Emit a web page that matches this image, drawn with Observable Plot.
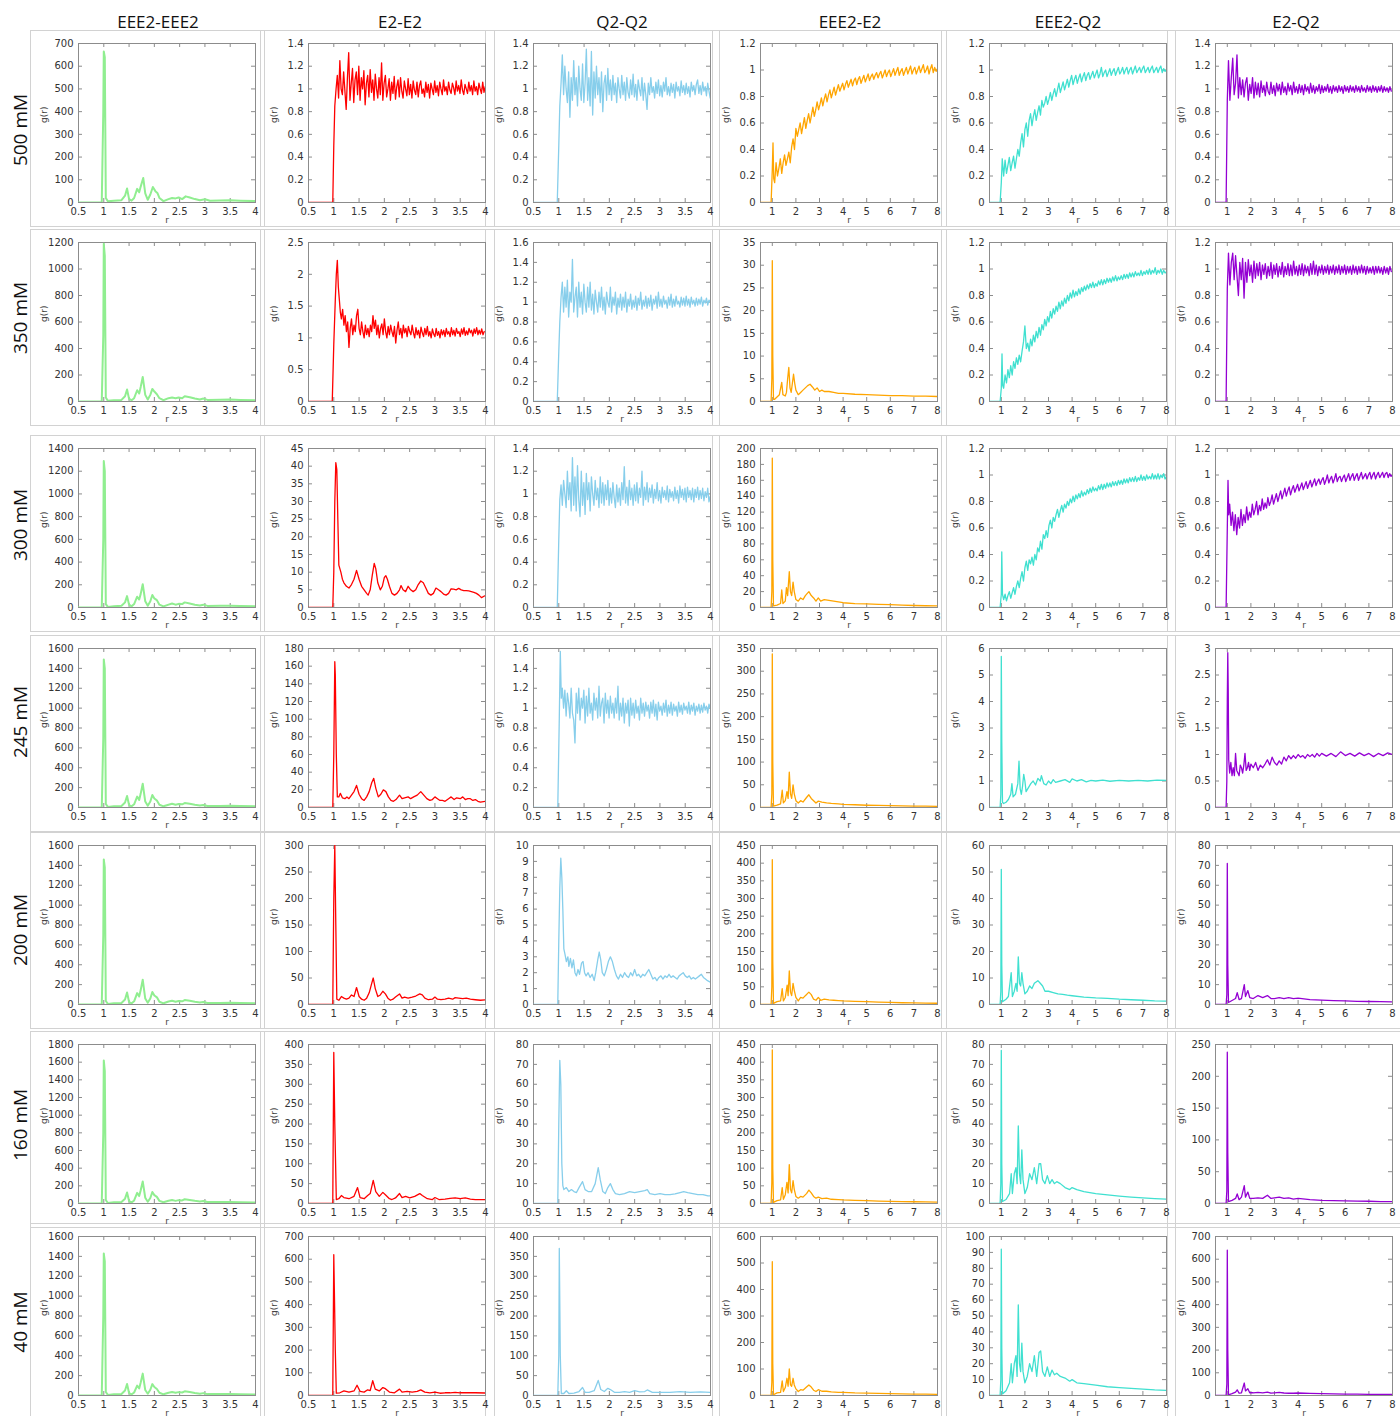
<!DOCTYPE html>
<html>
<head>
<meta charset="utf-8">
<script src="https://cdn.jsdelivr.net/npm/d3@7"></script>
<script src="https://cdn.jsdelivr.net/npm/@observablehq/plot@0.6"></script>
<style>
  body { margin: 0; background: #fff; }
  #fig { position: relative; width: 1400px; height: 1416px; overflow: hidden; background: #fff; font-family: "Open Sans", sans-serif; }
  .box { position: absolute; border: 1px solid #d2d2d2; box-sizing: border-box; }
  .colhead { position: absolute; top: 10px; line-height: 23px; font-size: 17px; color: #111; transform: translateX(-50%); white-space: nowrap; }
  .rowhead { position: absolute; font-size: 19px; color: #111; transform: translate(-50%, -50%) rotate(-90deg); white-space: nowrap; }
  svg.panel { position: absolute; }
</style>
</head>
<body>
<div id="fig"></div>
<script>
// ---- labels ----
const concentrations = ["500 mM", "350 mM", "300 mM", "245 mM", "200 mM", "160 mM", "40 mM"];
const pairs = ["EEE2-EEE2", "E2-E2", "Q2-Q2", "EEE2-E2", "EEE2-Q2", "E2-Q2"];

// y-axis maxima and tick steps, one row per concentration, one entry per pair
const yMax = [
  [700, 1.4, 1.4, 1.2, 1.2, 1.4],
  [1200, 2.5, 1.6, 35, 1.2, 1.2],
  [1400, 45, 1.4, 200, 1.2, 1.2],
  [1600, 180, 1.6, 350, 6, 3],
  [1600, 300, 10, 450, 60, 80],
  [1800, 400, 80, 450, 80, 250],
  [1600, 700, 400, 600, 100, 700]
];
const yStep = [
  [100, 0.2, 0.2, 0.2, 0.2, 0.2],
  [200, 0.5, 0.2, 5, 0.2, 0.2],
  [200, 5, 0.2, 20, 0.2, 0.2],
  [200, 20, 0.2, 50, 1, 0.5],
  [200, 50, 1, 50, 10, 10],
  [200, 50, 10, 50, 10, 50],
  [200, 100, 50, 100, 10, 100]
];
const xTicksShort = [0.5, 1, 1.5, 2, 2.5, 3, 3.5, 4];
const xTicksLong = [1, 2, 3, 4, 5, 6, 7, 8];

// g(r) sampled on a regular r grid
function onGrid(r0, dr, values) {
  return values.map((g, i) => [+(r0 + i * dr).toFixed(3), g]);
}

// ---- EEE2-EEE2 ----
const eee2eee2_500 = [[0.5,0],[0.96,0],[0.99,400],[1.0,665],[1.02,640],[1.04,20],[1.08,5],[1.2,8],[1.35,10],[1.42,30],[1.46,62],[1.5,15],[1.55,8],[1.6,20],[1.66,60],[1.7,45],[1.73,70],[1.78,108],[1.82,40],[1.87,12],[1.92,35],[1.97,68],[2.02,50],[2.06,42],[2.1,20],[2.18,6],[2.28,15],[2.35,20],[2.42,18],[2.48,22],[2.55,15],[2.62,27],[2.7,22],[2.8,15],[2.9,10],[3.0,14],[3.1,8],[3.3,9],[3.5,10],[3.7,8],[4.0,6]];
const eee2eee2_350 = [[0.5,0],[0.96,0],[0.99,500],[1.0,1190],[1.02,1100],[1.04,30],[1.08,5],[1.2,10],[1.35,12],[1.42,40],[1.46,90],[1.5,20],[1.55,10],[1.6,25],[1.66,85],[1.7,60],[1.73,110],[1.77,185],[1.82,50],[1.87,15],[1.92,50],[1.96,95],[2.0,75],[2.05,55],[2.1,25],[2.18,10],[2.28,25],[2.35,30],[2.42,25],[2.48,30],[2.55,25],[2.6,40],[2.7,32],[2.8,22],[2.9,15],[2.97,22],[3.05,12],[3.3,14],[3.5,15],[3.7,12],[4.0,10]];
const eee2eee2_300 = [[0.5,0],[0.96,0],[0.99,600],[1.0,1290],[1.02,1200],[1.04,30],[1.08,5],[1.2,10],[1.35,15],[1.42,45],[1.46,100],[1.5,25],[1.55,10],[1.6,30],[1.66,95],[1.7,70],[1.73,120],[1.77,205],[1.82,55],[1.87,15],[1.92,55],[1.96,110],[2.0,80],[2.05,65],[2.1,25],[2.18,10],[2.28,25],[2.35,35],[2.42,25],[2.48,32],[2.55,30],[2.6,45],[2.7,35],[2.8,25],[2.9,18],[2.97,25],[3.05,14],[3.3,15],[3.5,16],[3.7,13],[4.0,10]];
const eee2eee2_245 = [[0.5,0],[0.96,0],[0.99,700],[1.0,1490],[1.02,1400],[1.04,35],[1.08,6],[1.2,12],[1.35,16],[1.42,50],[1.46,115],[1.5,25],[1.55,12],[1.6,32],[1.66,110],[1.7,75],[1.73,140],[1.77,240],[1.82,60],[1.87,18],[1.92,60],[1.96,125],[2.0,90],[2.05,70],[2.1,28],[2.18,12],[2.28,28],[2.35,38],[2.42,28],[2.48,35],[2.55,32],[2.6,45],[2.7,38],[2.8,28],[2.9,20],[2.97,26],[3.05,15],[3.3,16],[3.5,17],[3.7,14],[4.0,12]];
const eee2eee2_200 = [[0.5,0],[0.96,0],[0.99,700],[1.0,1460],[1.02,1380],[1.04,35],[1.08,6],[1.2,12],[1.35,16],[1.42,50],[1.46,120],[1.5,25],[1.55,12],[1.6,32],[1.66,115],[1.7,80],[1.73,145],[1.77,250],[1.82,60],[1.87,18],[1.92,60],[1.96,125],[2.0,90],[2.05,72],[2.1,28],[2.18,12],[2.28,30],[2.35,38],[2.42,28],[2.48,36],[2.55,32],[2.6,45],[2.7,38],[2.8,28],[2.9,20],[2.97,26],[3.05,15],[3.3,16],[3.5,17],[3.7,14],[4.0,12]];
const eee2eee2_160 = [[0.5,0],[0.96,0],[0.99,800],[1.0,1620],[1.02,1500],[1.04,40],[1.08,6],[1.2,14],[1.35,18],[1.42,55],[1.46,125],[1.5,28],[1.55,12],[1.6,35],[1.66,120],[1.7,85],[1.73,150],[1.77,250],[1.82,65],[1.87,20],[1.92,62],[1.96,130],[2.0,95],[2.05,75],[2.1,30],[2.18,14],[2.28,32],[2.35,40],[2.42,30],[2.48,38],[2.55,35],[2.6,48],[2.7,40],[2.8,30],[2.9,22],[2.97,28],[3.05,16],[3.3,18],[3.5,18],[3.7,15],[4.0,12]];
const eee2eee2_40 = [[0.5,0],[0.96,0],[0.99,800],[1.0,1430],[1.02,1350],[1.04,35],[1.08,6],[1.2,12],[1.35,16],[1.42,50],[1.46,115],[1.5,25],[1.55,12],[1.6,30],[1.66,100],[1.7,70],[1.73,130],[1.77,220],[1.82,55],[1.87,18],[1.92,58],[1.96,115],[2.0,85],[2.05,65],[2.1,28],[2.18,12],[2.28,28],[2.35,36],[2.42,28],[2.48,34],[2.55,30],[2.6,42],[2.7,35],[2.8,25],[2.9,18],[2.97,24],[3.05,14],[3.3,15],[3.5,16],[3.7,13],[4.0,11]];

// ---- E2-E2 ----
const e2e2_500_lead = [[0.5,0],[0.98,0],[1.0,0.5]];
const e2e2_500_g = [
  0.85,1.0,1.12,0.92,1.25,1.0,0.95,1.15,0.98,0.82,
  1.1,1.32,0.9,1.05,1.18,0.88,1.08,1.15,0.95,1.2,
  0.9,1.1,1.0,1.16,0.86,1.05,1.12,0.93,1.17,0.97,
  1.08,0.9,1.13,1.0,0.92,1.1,0.95,1.23,0.9,1.05,
  1.12,0.93,1.0,1.09,0.9,1.06,0.96,1.11,0.91,1.02,
  1.08,0.93,1.1,0.98,0.92,1.07,1.0,0.94,1.09,0.95,
  1.04,0.92,1.07,0.99,0.95,1.06,0.93,1.03,1.07,0.96,
  1.0,0.93,1.06,0.97,1.04,0.92,1.05,1.0,0.95,1.07,
  0.97,1.03,0.94,1.06,1.0,0.95,1.08,0.98,1.02,0.95,
  1.06,0.99,0.96,1.05,1.01,0.95,1.07,0.98,1.03,0.96,
  1.08,0.99,0.95,1.04,1.0,0.96,1.06,0.98,1.03,0.95,
  1.07,0.98,1.02,0.95,1.05,1.0,0.96,1.06,0.97,1.02];
const e2e2_350_lead = [[0.5,0],[0.97,0],[1.0,0.9],[1.03,1.6],[1.05,2.0],[1.07,2.22],[1.09,1.8],[1.11,1.6],[1.13,1.4]];
const e2e2_350_g = [
  1.3,1.45,1.2,1.35,1.1,1.25,0.85,1.15,1.3,1.05,
  1.2,1.1,1.35,1.45,1.15,1.05,1.25,1.1,1.0,1.2,
  1.05,1.15,1.02,1.2,1.1,1.35,1.15,1.28,1.05,1.2,
  1.0,1.15,1.22,1.05,1.3,1.1,1.0,1.18,1.05,1.2,
  1.1,1.02,1.18,0.92,1.12,1.25,1.05,1.15,1.0,1.2,
  1.08,1.15,1.02,1.18,1.1,1.05,1.2,1.08,1.0,1.16,
  1.05,1.12,1.0,1.17,1.08,1.02,1.15,1.05,1.18,1.03,
  1.1,1.0,1.14,1.06,1.02,1.15,1.04,1.1,1.0,1.13,
  1.05,1.12,1.02,1.15,1.06,1.1,1.02,1.16,1.05,1.12,
  1.03,1.15,1.07,1.1,1.02,1.14,1.06,1.16,1.04,1.11,
  1.05,1.15,1.08,1.12,1.03,1.14,1.07,1.16,1.05,1.12,
  1.06,1.14,1.05,1.1];
const e2e2_300 = [[0.5,0],[0.98,0],[1.0,10],[1.02,30],[1.04,41],[1.06,39],[1.08,25],[1.1,12],[1.12,11],[1.14,10],[1.17,8],[1.2,7],[1.25,6],[1.3,5.5],[1.35,6.5],[1.4,8],[1.45,10.5],[1.5,8],[1.55,6],[1.6,5],[1.65,4],[1.68,3.5],[1.72,5],[1.76,9],[1.8,12.5],[1.83,11],[1.87,7],[1.92,5],[1.96,6],[2.0,8.5],[2.03,9],[2.06,8],[2.1,6],[2.15,4],[2.2,3.5],[2.25,4],[2.3,5],[2.33,6.2],[2.37,5],[2.42,4.5],[2.47,6],[2.52,5],[2.57,4.5],[2.62,5],[2.67,6.5],[2.72,7.5],[2.77,7],[2.82,5.5],[2.87,4],[2.92,3.5],[2.97,4],[3.02,5.5],[3.07,5],[3.12,4.5],[3.17,3.8],[3.22,3.5],[3.27,4],[3.32,5.3],[3.37,5.2],[3.42,5],[3.47,5.4],[3.52,5],[3.57,4.8],[3.62,4.8],[3.67,4.7],[3.72,4.5],[3.77,4.3],[3.82,4],[3.87,3.5],[3.92,2.8],[3.97,3.2],[4.0,3.3]];
const e2e2_245 = [[0.5,0],[0.98,0],[1.0,60],[1.02,165],[1.03,150],[1.05,60],[1.07,12],[1.1,12],[1.13,16],[1.17,11],[1.22,10],[1.26,12],[1.3,10],[1.35,14],[1.4,18],[1.45,25],[1.5,15],[1.55,10],[1.6,8],[1.65,12],[1.7,18],[1.75,28],[1.79,33],[1.83,22],[1.88,12],[1.93,15],[1.98,20],[2.03,18],[2.08,12],[2.13,8],[2.18,7],[2.23,9],[2.3,14],[2.35,10],[2.4,11],[2.47,12],[2.52,10],[2.58,12],[2.65,14],[2.72,18],[2.78,14],[2.84,10],[2.9,8],[2.95,9],[3.0,12],[3.05,10],[3.1,8],[3.15,8],[3.2,7],[3.27,10],[3.32,12],[3.38,9],[3.43,11],[3.5,10],[3.55,12],[3.6,9],[3.65,10],[3.7,10],[3.75,8],[3.8,9],[3.85,7],[3.9,6],[4.0,7]];
const e2e2_200 = [[0.5,0],[0.98,0],[1.0,200],[1.02,300],[1.04,150],[1.06,10],[1.1,8],[1.15,15],[1.2,12],[1.25,10],[1.3,12],[1.35,18],[1.4,15],[1.45,32],[1.5,15],[1.55,10],[1.6,8],[1.65,12],[1.7,22],[1.75,40],[1.78,50],[1.82,30],[1.87,15],[1.92,18],[1.97,25],[2.02,20],[2.07,12],[2.12,8],[2.17,10],[2.22,14],[2.3,20],[2.35,12],[2.4,14],[2.47,12],[2.55,14],[2.62,16],[2.7,20],[2.75,18],[2.8,12],[2.87,9],[2.95,10],[3.0,14],[3.05,10],[3.12,9],[3.2,10],[3.27,12],[3.35,10],[3.4,13],[3.47,12],[3.55,11],[3.62,12],[3.7,10],[3.8,9],[3.9,8],[4.0,9]];
const e2e2_160 = [[0.5,0],[0.98,0],[1.0,380],[1.02,200],[1.05,10],[1.1,12],[1.15,20],[1.2,15],[1.3,12],[1.4,18],[1.47,40],[1.52,15],[1.6,12],[1.67,20],[1.72,25],[1.78,58],[1.83,30],[1.9,18],[1.97,28],[2.02,22],[2.1,12],[2.15,10],[2.22,14],[2.3,25],[2.35,15],[2.42,18],[2.5,14],[2.6,18],[2.7,25],[2.75,20],[2.85,12],[2.95,10],[3.0,15],[3.08,10],[3.2,11],[3.3,13],[3.4,14],[3.5,12],[3.6,14],[3.7,11],[3.8,10],[4.0,10]];
const e2e2_40 = [[0.5,0],[0.98,0],[1.0,620],[1.03,200],[1.05,10],[1.12,12],[1.2,20],[1.3,15],[1.4,20],[1.46,45],[1.52,18],[1.6,15],[1.67,25],[1.72,22],[1.77,65],[1.82,28],[1.9,20],[1.97,35],[2.02,30],[2.1,15],[2.2,12],[2.3,28],[2.35,15],[2.45,18],[2.55,15],[2.65,18],[2.72,25],[2.8,15],[2.9,12],[3.0,15],[3.1,10],[3.2,12],[3.3,12],[3.4,14],[3.5,12],[3.6,13],[3.7,12],[3.8,12],[4.0,11]];

// ---- Q2-Q2 ----
const q2q2_500_lead = [[0.5,0],[0.97,0],[1.0,0.5]];
const q2q2_500_g = [
  0.85,1.05,1.3,0.95,1.2,1.0,0.88,1.15,0.75,1.1,
  0.9,1.25,0.95,1.1,0.85,1.2,1.0,0.9,1.22,0.88,
  1.05,1.35,0.9,1.1,0.85,1.33,0.77,1.15,0.92,1.2,
  0.95,1.1,0.88,1.15,0.8,1.05,1.12,0.9,1.18,0.95,
  1.08,0.9,1.12,0.95,1.05,0.88,1.1,1.0,0.92,1.12,
  0.95,1.06,0.9,1.1,0.97,0.92,1.08,0.95,1.13,0.93,
  1.04,0.9,1.08,1.0,0.94,1.1,0.9,1.05,0.95,0.82,
  1.05,0.95,1.1,0.97,1.02,0.92,1.06,0.96,1.08,0.94,
  1.03,0.93,1.06,0.98,1.1,0.95,1.02,0.94,1.05,0.97,
  1.04,0.92,1.06,0.98,1.02,0.94,1.07,0.97,1.03,0.95,
  1.05,0.96,1.02,0.93,1.06,0.98,1.03,0.95,1.04,1.08,
  0.96,1.03,0.95,1.06,0.98,1.02,0.94,1.05,0.98,0.92];
const q2q2_350_lead = [[0.5,0],[0.97,0],[1.0,0.5]];
const q2q2_350_g = [
  0.8,1.05,1.2,0.9,1.15,0.95,1.22,0.85,1.1,1.0,
  1.43,0.9,1.05,1.15,0.85,1.2,0.95,1.1,0.88,1.18,
  1.0,0.9,1.15,0.95,1.2,0.92,1.08,0.88,1.12,1.0,
  0.9,1.1,0.95,1.15,0.92,1.05,0.88,1.1,1.0,0.95,
  1.15,0.9,1.05,0.97,1.1,0.88,1.04,0.95,1.08,0.92,
  1.05,0.95,1.1,0.9,1.03,0.96,1.08,0.93,1.02,0.95,
  1.06,0.92,1.04,0.97,1.1,0.93,1.02,0.96,1.06,0.94,
  1.04,0.96,1.07,0.92,1.03,0.98,1.06,0.94,1.1,0.96,
  1.03,0.95,1.06,0.98,1.02,0.94,1.05,0.97,1.08,0.95,
  1.03,0.96,1.06,0.98,1.01,0.95,1.05,0.97,1.04,0.96,
  1.06,0.97,1.03,0.95,1.05,0.98,1.02,0.96,1.04,0.97,
  1.03,0.98,1.05,0.96,1.02,0.99,1.04,0.97,1.02,1.0];
const q2q2_300_lead = [[0.5,0],[0.97,0],[1.0,0.6]];
const q2q2_300_g = [
  0.95,1.08,0.9,1.12,1.0,0.88,1.2,0.95,1.1,0.85,
  1.32,0.9,1.15,0.85,1.25,0.95,0.8,1.2,0.9,1.1,
  0.82,1.18,0.95,1.1,0.85,1.15,1.0,0.9,1.12,0.95,
  1.05,0.88,1.15,0.92,1.1,0.9,1.08,0.95,1.12,0.9,
  1.05,0.92,1.1,0.97,0.88,1.08,0.93,1.05,0.9,1.1,
  0.95,1.24,0.92,1.06,0.9,1.12,0.95,1.05,0.9,1.08,
  0.94,1.1,0.92,1.05,0.97,1.2,0.9,1.06,0.95,1.1,
  0.93,1.05,0.97,1.08,0.92,1.04,0.96,1.1,0.94,1.03,
  0.92,1.06,0.97,1.03,0.95,1.07,0.93,1.04,0.97,1.02,
  0.94,1.06,0.96,1.03,0.92,1.07,0.97,1.04,0.95,1.05,
  0.93,1.06,0.97,1.03,0.95,1.05,0.93,1.04,0.97,1.06,
  0.95,1.03,0.96,1.05,0.94,1.02,0.97,1.05,0.93,0.98];
const q2q2_245_lead = [[0.5,0],[0.98,0],[1.01,0.9],[1.03,1.57],[1.05,1.1]];
const q2q2_245_g = [
  1.2,1.0,1.18,0.92,1.15,1.05,0.9,1.2,0.95,0.88,
  0.65,1.15,0.95,1.2,0.88,1.1,1.0,1.18,0.85,1.12,
  0.92,1.2,0.95,1.05,0.88,1.15,0.98,1.1,0.9,1.22,
  0.92,1.05,1.1,0.85,1.15,0.95,1.08,0.9,1.12,0.95,
  1.05,0.9,1.1,0.95,1.22,0.88,1.05,0.92,1.1,0.85,
  1.05,0.95,1.08,0.82,1.1,0.93,1.05,0.9,1.08,0.95,
  1.02,0.88,1.1,0.95,1.05,0.92,1.06,0.97,1.03,0.9,
  1.06,0.95,1.08,0.92,1.04,0.88,1.06,0.97,1.02,0.93,
  1.05,0.96,1.08,0.92,1.03,0.95,1.06,0.93,1.04,0.97,
  1.02,0.92,1.06,0.96,1.03,0.94,1.05,0.98,1.02,0.95,
  1.06,0.94,1.03,0.97,1.05,0.93,1.02,0.97,1.04,0.95,
  1.03,0.96,1.05,0.98,1.02,0.95,1.04,1.0];
const q2q2_200 = [[0.5,0],[0.98,0],[1.0,4],[1.02,7.3],[1.04,9.2],[1.06,8],[1.08,6],[1.1,3.5],[1.12,3.2],[1.15,2.7],[1.18,3.0],[1.2,2.4],[1.23,2.9],[1.26,2.3],[1.29,2.8],[1.32,2.0],[1.35,1.8],[1.38,2.2],[1.41,1.9],[1.45,2.6],[1.48,2.7],[1.51,2.0],[1.54,1.8],[1.58,2.0],[1.62,1.7],[1.66,1.9],[1.7,1.5],[1.73,2.0],[1.77,2.8],[1.8,3.3],[1.83,2.8],[1.86,2.0],[1.9,1.8],[1.94,2.2],[1.98,2.7],[2.02,3.0],[2.06,2.7],[2.1,2.2],[2.14,1.8],[2.18,1.6],[2.22,1.9],[2.26,1.7],[2.3,2.0],[2.34,1.8],[2.38,1.7],[2.42,2.0],[2.46,1.8],[2.5,2.2],[2.54,1.8],[2.58,1.9],[2.62,1.7],[2.66,1.9],[2.7,1.8],[2.74,2.0],[2.78,2.2],[2.82,1.9],[2.86,1.6],[2.9,1.7],[2.94,1.5],[2.98,1.7],[3.02,1.8],[3.06,1.6],[3.1,1.8],[3.14,1.7],[3.18,1.9],[3.22,1.7],[3.26,1.8],[3.3,1.7],[3.34,1.6],[3.38,1.8],[3.42,1.9],[3.46,2.0],[3.5,1.8],[3.54,1.7],[3.58,1.8],[3.62,1.6],[3.66,1.7],[3.7,1.6],[3.74,1.7],[3.78,1.8],[3.82,1.9],[3.86,1.7],[3.9,1.6],[3.94,1.5],[4.0,1.4]];
const q2q2_160 = [[0.5,0],[0.98,0],[1.0,40],[1.02,72],[1.04,60],[1.06,20],[1.08,9],[1.1,7],[1.15,8],[1.2,6],[1.25,7],[1.3,6],[1.35,5.5],[1.4,8],[1.47,11],[1.52,7],[1.58,6],[1.65,6],[1.72,10],[1.78,18],[1.82,12],[1.87,6],[1.92,5],[1.97,8],[2.02,10],[2.07,7],[2.12,5],[2.2,4.5],[2.3,5],[2.4,6],[2.5,5.5],[2.6,6],[2.7,6.5],[2.75,7],[2.8,5],[2.9,4.5],[3.0,5],[3.1,4.5],[3.2,4.5],[3.3,4.8],[3.4,5.5],[3.47,6],[3.55,5.5],[3.65,5],[3.75,4.5],[3.85,4.5],[3.95,3.8],[4.0,3.8]];
const q2q2_40 = [[0.5,0],[0.98,0],[1.0,100],[1.01,370],[1.03,100],[1.05,5],[1.1,5],[1.15,12],[1.2,5],[1.3,6],[1.4,10],[1.47,20],[1.52,8],[1.6,8],[1.7,12],[1.78,38],[1.83,15],[1.9,10],[1.97,18],[2.02,15],[2.1,8],[2.2,8],[2.3,10],[2.4,8],[2.5,12],[2.6,9],[2.7,10],[2.75,14],[2.85,8],[3.0,8],[3.2,8],[3.4,10],[3.6,8],[3.8,9],[4.0,8]];

// ---- EEE2-E2 ----
const eee2e2_500_lead = [[0.5,0],[0.95,0],[1.0,0.25],[1.03,0.45],[1.06,0.18]];
const eee2e2_500_g = [
  0.15,0.3,0.2,0.26,0.33,0.22,0.3,0.36,0.28,0.33,
  0.38,0.3,0.42,0.48,0.4,0.56,0.5,0.55,0.6,0.52,
  0.58,0.64,0.56,0.62,0.67,0.6,0.66,0.72,0.65,0.7,
  0.76,0.7,0.74,0.79,0.73,0.78,0.82,0.76,0.81,0.85,
  0.79,0.83,0.87,0.81,0.85,0.89,0.84,0.87,0.9,0.85,
  0.89,0.92,0.87,0.9,0.93,0.88,0.92,0.94,0.89,0.93,
  0.95,0.9,0.93,0.96,0.91,0.94,0.97,0.92,0.95,0.97,
  0.93,0.96,0.98,0.94,0.97,0.99,0.94,0.97,1.0,0.95,
  0.98,1.0,0.95,0.98,1.01,0.96,0.99,1.02,0.96,0.99,
  1.01,0.96,0.99,1.02,0.97,1.0,1.03,0.97,1.0,1.02,
  0.97,1.0,1.03,0.98,1.01,1.04,0.98,1.0,1.03,0.97,
  1.01,1.04,0.98,1.02,0.99,1.01];
const eee2e2_350 = [[0.5,0],[0.95,0],[0.98,5],[1.0,31],[1.02,10],[1.05,0.5],[1.1,0.5],[1.2,1],[1.3,1.5],[1.4,4.2],[1.45,1.5],[1.55,1.2],[1.6,2],[1.65,5],[1.7,7.5],[1.75,3],[1.8,2],[1.85,4],[1.9,6],[1.95,4],[2.0,2.5],[2.1,1.5],[2.2,2],[2.3,2.5],[2.4,3],[2.5,3.5],[2.6,3.8],[2.7,3.2],[2.8,2.5],[2.9,3],[3.0,2.2],[3.1,2.5],[3.2,2.2],[3.4,2.2],[3.6,2.0],[3.8,1.8],[4.0,1.8],[4.5,1.6],[5.0,1.5],[5.5,1.4],[6.0,1.3],[6.5,1.3],[7.0,1.2],[7.5,1.2],[8.0,1.1]];
const eee2e2_300 = [[0.5,0],[0.95,0],[0.98,20],[1.0,188],[1.02,60],[1.05,2],[1.2,3],[1.35,5],[1.4,22],[1.45,5],[1.55,8],[1.6,25],[1.65,15],[1.72,45],[1.77,20],[1.82,15],[1.88,32],[1.93,20],[2.0,10],[2.1,8],[2.2,12],[2.3,10],[2.4,15],[2.55,20],[2.65,15],[2.75,12],[2.85,8],[2.95,12],[3.05,8],[3.2,10],[3.4,9],[3.6,8],[3.8,7],[4.0,6],[4.5,5],[5.0,4.5],[5.5,4],[6.0,3.5],[6.5,3],[7.0,2.5],[7.5,2.2],[8.0,2]];
const eee2e2_245 = [[0.5,0],[0.95,0],[0.98,30],[1.0,338],[1.02,100],[1.05,3],[1.2,5],[1.35,8],[1.42,38],[1.47,10],[1.55,15],[1.62,35],[1.67,20],[1.72,78],[1.77,30],[1.82,20],[1.88,50],[1.93,30],[2.0,15],[2.1,10],[2.2,15],[2.3,12],[2.45,22],[2.55,28],[2.65,20],[2.75,15],[2.85,10],[2.95,14],[3.1,12],[3.3,10],[3.5,9],[3.8,8],[4.0,7],[4.5,6],[5.0,5],[5.5,4.5],[6.0,4],[6.5,3.5],[7.0,3],[7.5,3],[8.0,2.5]];
const eee2e2_200 = [[0.5,0],[0.95,0],[0.98,50],[1.0,410],[1.02,120],[1.05,3],[1.2,8],[1.35,10],[1.42,45],[1.47,10],[1.55,20],[1.63,55],[1.67,25],[1.72,95],[1.77,35],[1.82,25],[1.88,60],[1.93,40],[2.0,20],[2.1,10],[2.2,20],[2.3,18],[2.4,25],[2.55,35],[2.65,28],[2.75,15],[2.85,12],[2.95,20],[3.05,12],[3.2,15],[3.4,13],[3.6,12],[3.8,11],[4.0,10],[4.5,9],[5.0,8],[5.5,7],[6.0,6],[6.5,5],[7.0,4.5],[7.5,4],[8.0,3.5]];
const eee2e2_160 = [[0.5,0],[0.95,0],[0.98,60],[1.0,435],[1.02,100],[1.05,3],[1.2,8],[1.35,10],[1.42,45],[1.47,12],[1.55,25],[1.62,60],[1.67,30],[1.72,110],[1.77,40],[1.82,30],[1.88,65],[1.93,40],[2.0,20],[2.1,15],[2.2,20],[2.3,18],[2.45,28],[2.55,38],[2.65,30],[2.75,20],[2.85,15],[2.95,18],[3.1,14],[3.3,15],[3.5,12],[3.8,11],[4.0,10],[4.5,9],[5.0,8],[5.5,7],[6.0,6],[6.5,5.5],[7.0,5],[7.5,4.5],[8.0,4]];
const eee2e2_40 = [[0.5,0],[0.95,0],[0.98,50],[1.0,505],[1.02,120],[1.05,3],[1.2,10],[1.35,12],[1.42,55],[1.47,15],[1.55,30],[1.62,65],[1.67,35],[1.72,100],[1.77,40],[1.82,35],[1.88,65],[1.93,40],[2.0,25],[2.1,15],[2.2,22],[2.3,20],[2.45,32],[2.55,40],[2.65,32],[2.75,20],[2.85,15],[2.95,22],[3.1,16],[3.3,16],[3.5,14],[3.8,12],[4.0,12],[4.5,10],[5.0,9],[5.5,8],[6.0,7],[6.5,6],[7.0,5.5],[7.5,5],[8.0,4.5]];

// ---- EEE2-Q2 ----
const eee2q2_500_lead = [[0.5,0],[0.95,0],[1.0,0.15],[1.04,0.33]];
const eee2q2_500_g = [
  0.2,0.32,0.22,0.28,0.34,0.24,0.3,0.35,0.26,0.33,
  0.4,0.35,0.45,0.52,0.42,0.55,0.6,0.5,0.62,0.67,
  0.58,0.65,0.7,0.62,0.68,0.73,0.66,0.77,0.72,0.75,
  0.8,0.74,0.78,0.83,0.77,0.82,0.86,0.8,0.85,0.9,
  0.83,0.87,0.91,0.85,0.89,0.93,0.87,0.92,0.96,0.89,
  0.93,0.96,0.9,0.94,0.97,0.91,0.95,0.98,0.92,0.96,
  0.98,0.93,0.96,0.99,0.94,0.97,1.0,0.94,0.97,1.02,
  0.95,0.98,1.0,0.95,0.98,1.01,0.96,0.99,1.01,0.96,
  0.99,1.02,0.97,0.99,1.02,0.97,1.0,1.02,0.97,1.0,
  1.02,0.97,1.0,1.03,0.98,1.0,1.02,0.98,1.01,1.03,
  0.98,1.0,1.02,0.98,1.01,1.03,0.98,1.0,1.02,0.98,
  1.01,1.03,0.98,1.01,0.99,1.0];
const eee2q2_350_lead = [[0.5,0],[0.95,0],[1.0,0.1],[1.03,0.36],[1.06,0.12]];
const eee2q2_350_g = [
  0.1,0.2,0.14,0.24,0.18,0.27,0.2,0.3,0.25,0.33,
  0.28,0.35,0.3,0.38,0.45,0.57,0.4,0.44,0.38,0.47,
  0.42,0.5,0.45,0.53,0.48,0.56,0.5,0.58,0.54,0.62,
  0.57,0.64,0.6,0.68,0.63,0.7,0.66,0.72,0.68,0.75,
  0.7,0.76,0.72,0.78,0.74,0.8,0.76,0.82,0.78,0.84,
  0.79,0.83,0.8,0.85,0.81,0.86,0.83,0.87,0.84,0.88,
  0.85,0.89,0.86,0.9,0.86,0.89,0.87,0.91,0.88,0.92,
  0.88,0.92,0.89,0.93,0.9,0.93,0.9,0.94,0.91,0.95,
  0.91,0.94,0.92,0.95,0.92,0.96,0.93,0.96,0.93,0.97,
  0.94,0.97,0.94,0.98,0.95,0.97,0.95,0.99,0.95,0.98,
  0.96,0.99,0.96,1.0,0.96,0.99,0.97,1.01,0.96,0.99,
  0.97,1.0,0.96,0.99,0.97,0.98];
const eee2q2_300_lead = [[0.5,0],[0.95,0],[1.0,0.1],[1.02,0.42],[1.05,0.1]];
const eee2q2_300_g = [
  0.06,0.1,0.05,0.09,0.12,0.07,0.11,0.15,0.1,0.16,
  0.2,0.15,0.22,0.27,0.2,0.3,0.35,0.28,0.36,0.33,
  0.38,0.32,0.4,0.36,0.45,0.42,0.5,0.44,0.55,0.52,
  0.58,0.53,0.62,0.66,0.6,0.68,0.65,0.7,0.74,0.68,
  0.73,0.77,0.72,0.78,0.75,0.8,0.77,0.82,0.79,0.84,
  0.8,0.85,0.82,0.86,0.83,0.88,0.84,0.87,0.85,0.89,
  0.86,0.9,0.87,0.91,0.88,0.9,0.88,0.92,0.89,0.93,
  0.89,0.93,0.9,0.94,0.91,0.94,0.91,0.95,0.92,0.95,
  0.92,0.96,0.93,0.96,0.93,0.97,0.94,0.97,0.94,0.98,
  0.95,0.98,0.95,0.99,0.95,0.98,0.96,1.0,0.96,0.99,
  0.96,1.0,0.97,0.99,0.97,1.01,0.97,1.0,0.97,1.01,
  0.97,1.0,0.98,1.01,0.97,0.99];
const eee2q2_245 = [[0.5,0],[0.95,0],[0.98,0.5],[1.0,5.7],[1.02,2.5],[1.05,0.2],[1.1,0.15],[1.2,0.2],[1.3,0.3],[1.4,0.5],[1.45,0.9],[1.5,0.4],[1.6,0.5],[1.7,0.9],[1.75,1.75],[1.8,0.7],[1.85,0.5],[1.9,0.8],[1.95,1.25],[2.0,1.0],[2.05,0.6],[2.15,0.75],[2.25,0.9],[2.35,1.0],[2.45,0.85],[2.55,1.1],[2.65,1.0],[2.7,1.2],[2.8,0.9],[2.9,0.85],[3.0,1.0],[3.1,0.9],[3.2,1.05],[3.3,0.95],[3.5,1.0],[3.7,1.05],[3.9,0.95],[4.0,1.08],[4.2,1.0],[4.4,1.05],[4.6,0.97],[4.8,1.02],[5.0,1.0],[5.3,1.03],[5.6,0.99],[6.0,1.02],[6.4,1.0],[6.8,1.02],[7.2,1.0],[7.6,1.03],[8.0,1.02]];
const eee2q2_200 = [[0.5,0],[0.95,0],[0.98,5],[1.0,51],[1.02,15],[1.05,1],[1.2,2],[1.3,3],[1.42,12],[1.47,3],[1.55,5],[1.62,8],[1.67,5],[1.72,18],[1.77,8],[1.82,7],[1.87,12],[1.92,8],[2.0,4],[2.1,5],[2.2,7],[2.3,6],[2.4,8],[2.55,9],[2.65,8],[2.75,7],[2.85,5],[3.0,5],[3.2,4.5],[3.4,4],[3.6,3.8],[3.8,3.5],[4.0,3.3],[4.5,2.8],[5.0,2.5],[5.5,2.3],[6.0,2.0],[6.5,1.8],[7.0,1.6],[7.5,1.4],[8.0,1.3]];
const eee2q2_160 = [[0.5,0],[0.95,0],[0.98,10],[1.0,77],[1.02,20],[1.05,1],[1.2,2],[1.35,5],[1.42,15],[1.47,5],[1.55,15],[1.62,18],[1.67,10],[1.72,39],[1.77,15],[1.82,10],[1.87,27],[1.92,12],[2.0,5],[2.1,8],[2.2,15],[2.3,12],[2.4,18],[2.5,10],[2.6,20],[2.67,20],[2.75,12],[2.85,10],[2.95,14],[3.05,10],[3.15,12],[3.25,10],[3.35,11],[3.5,10],[3.7,8],[3.9,7],[4.0,8],[4.2,7],[4.5,6],[5.0,5],[5.5,4.3],[6.0,3.7],[6.5,3.2],[7.0,2.8],[7.5,2.5],[8.0,2.2]];
const eee2q2_40 = [[0.5,0],[0.95,0],[0.98,10],[1.0,92],[1.02,30],[1.05,1],[1.2,3],[1.35,8],[1.42,20],[1.47,8],[1.55,20],[1.62,25],[1.67,12],[1.72,57],[1.77,20],[1.82,15],[1.87,33],[1.92,15],[2.0,8],[2.1,12],[2.2,20],[2.3,15],[2.4,25],[2.5,12],[2.6,27],[2.67,28],[2.75,15],[2.85,12],[2.95,18],[3.05,12],[3.15,16],[3.25,13],[3.35,14],[3.5,12],[3.7,11],[3.9,9],[4.0,10],[4.2,8],[4.5,7.5],[5.0,6.5],[5.5,5.5],[6.0,5],[6.5,4.5],[7.0,4],[7.5,3.5],[8.0,3.2]];

// ---- E2-Q2 ----
const e2q2_500_lead = [[0.5,0],[0.95,0],[1.0,0.9]];
const e2q2_500_g = [
  1.25,0.9,1.1,1.27,0.95,1.05,1.3,0.92,1.1,0.95,
  1.08,0.93,1.05,1.1,0.9,1.04,0.96,1.1,0.92,1.06,
  0.95,1.05,0.93,1.07,0.97,1.03,0.94,1.06,0.98,0.95,
  1.06,0.96,1.03,0.94,1.05,0.98,1.04,0.95,1.06,0.97,
  1.02,0.95,1.05,0.98,1.03,0.95,1.06,0.97,1.02,0.96,
  1.04,0.97,1.03,0.95,1.04,0.98,1.02,0.96,1.05,0.97,
  1.03,0.96,1.02,0.98,1.04,0.96,1.03,0.97,1.02,0.98,
  1.04,0.97,1.02,0.96,1.03,0.98,1.02,0.97,1.03,0.98,
  1.02,0.96,1.03,0.98,1.02,0.97,1.03,0.98,1.02,0.97,
  1.03,0.98,1.02,0.97,1.03,0.98,1.01,0.97,1.03,0.98,
  1.02,0.97,1.03,0.98,1.02,0.97,1.02,0.98,1.03,0.97,
  1.02,0.98,1.01,0.97,1.02,0.98];
const e2q2_350_lead = [[0.5,0],[0.95,0],[1.0,0.85]];
const e2q2_350_g = [
  1.12,0.88,1.05,1.12,0.92,1.1,0.95,0.8,1.05,0.92,
  1.08,0.78,1.05,0.9,1.07,0.95,1.03,0.9,1.06,0.93,
  1.04,0.95,1.05,0.92,1.03,0.96,1.04,0.93,1.02,0.95,
  1.05,0.93,1.03,0.96,1.04,0.94,1.02,0.96,1.05,0.94,
  1.02,0.96,1.04,0.95,1.03,0.95,1.06,0.96,1.02,0.95,
  1.03,0.96,1.04,0.95,1.03,0.97,1.02,0.95,1.04,0.96,
  1.06,0.96,1.03,0.95,1.02,0.97,1.03,0.96,1.02,0.97,
  1.03,0.96,1.02,0.97,1.03,0.96,1.02,0.97,1.03,0.96,
  1.02,0.97,1.03,0.96,1.02,0.97,1.02,0.96,1.03,0.97,
  1.02,0.96,1.02,0.97,1.03,0.97,1.02,0.96,1.02,0.97,
  1.01,0.97,1.02,0.96,1.02,0.97,1.02,0.97,1.01,0.96,
  1.02,0.97,1.01,0.96,1.02,0.98];
const e2q2_300_lead = [[0.5,0],[0.95,0],[1.0,0.6],[1.03,0.96],[1.06,0.7]];
const e2q2_300_g = [
  0.78,0.62,0.72,0.58,0.7,0.55,0.68,0.6,0.74,0.62,
  0.7,0.64,0.76,0.66,0.72,0.68,0.78,0.7,0.74,0.8,
  0.7,0.77,0.73,0.82,0.74,0.79,0.75,0.83,0.77,0.8,
  0.85,0.78,0.82,0.86,0.8,0.84,0.88,0.82,0.86,0.9,
  0.84,0.88,0.91,0.85,0.89,0.92,0.87,0.9,0.93,0.88,
  0.91,0.94,0.89,0.92,0.95,0.9,0.93,0.96,0.91,0.94,
  0.97,0.92,0.95,0.97,0.93,0.96,0.98,0.93,0.96,1.0,
  0.94,0.97,0.99,0.94,0.97,1.01,0.95,0.98,0.99,0.95,
  0.98,1.0,0.95,0.98,1.01,0.96,0.99,1.01,0.96,0.99,
  1.01,0.96,0.99,1.02,0.97,0.99,1.01,0.97,1.0,1.02,
  0.97,1.0,1.02,0.97,1.0,1.02,0.98,1.0,1.02,0.98,
  1.01,1.02,0.98,1.01,0.99,1.0];
const e2q2_245 = [[0.5,0],[0.95,0],[0.98,0.5],[1.0,2.0],[1.02,2.92],[1.04,2.2],[1.06,0.9],[1.1,0.65],[1.15,0.85],[1.2,0.6],[1.25,0.75],[1.3,0.6],[1.35,1.02],[1.4,0.7],[1.45,0.65],[1.5,0.6],[1.55,0.8],[1.6,0.75],[1.65,0.65],[1.7,0.8],[1.75,1.02],[1.8,0.7],[1.85,0.75],[1.9,0.85],[1.95,0.7],[2.0,0.82],[2.1,0.75],[2.2,0.85],[2.3,0.7],[2.4,0.8],[2.5,0.75],[2.6,0.82],[2.7,0.9],[2.8,0.8],[2.9,0.95],[3.0,0.85],[3.1,0.8],[3.2,0.88],[3.3,0.82],[3.4,0.95],[3.5,0.88],[3.6,0.98],[3.7,0.92],[3.8,0.98],[3.9,0.93],[4.0,1.0],[4.1,0.95],[4.2,0.98],[4.3,0.93],[4.4,1.0],[4.5,0.96],[4.6,1.0],[4.7,0.95],[4.8,1.02],[4.9,0.97],[5.0,1.02],[5.2,0.97],[5.4,1.02],[5.6,0.96],[5.8,1.05],[6.0,0.98],[6.2,1.02],[6.4,0.97],[6.6,1.03],[6.8,0.98],[7.0,1.02],[7.2,0.96],[7.4,1.02],[7.6,0.98],[7.8,1.03],[8.0,1.0]];
const e2q2_200 = [[0.5,0],[0.95,0],[0.98,5],[1.0,71],[1.02,20],[1.05,1],[1.2,2],[1.35,3],[1.42,6],[1.5,2.5],[1.6,3],[1.72,10],[1.77,4],[1.87,7],[1.95,3.5],[2.1,3],[2.3,4.5],[2.5,3.5],[2.7,4.5],[2.85,3],[3.0,3],[3.2,3.5],[3.4,3],[3.6,3.5],[3.8,3],[4.0,3.2],[4.5,2.5],[5.0,2.2],[5.5,2],[6.0,1.8],[6.5,1.6],[7.0,1.5],[7.5,1.4],[8.0,1.3]];
const e2q2_160 = [[0.5,0],[0.95,0],[0.98,20],[1.0,238],[1.02,80],[1.05,3],[1.2,5],[1.35,8],[1.42,15],[1.5,6],[1.6,10],[1.72,28],[1.77,10],[1.87,18],[1.95,8],[2.1,8],[2.3,9],[2.5,8],[2.7,13],[2.85,8],[3.0,9],[3.2,10],[3.4,8],[3.6,9],[3.8,7],[4.0,8],[4.5,6],[5.0,5],[5.5,4.5],[6.0,4],[6.5,3.8],[7.0,3.5],[7.5,3],[8.0,3]];
const e2q2_40 = [[0.5,0],[0.95,0],[0.98,50],[1.0,640],[1.02,200],[1.05,3],[1.2,8],[1.35,15],[1.42,25],[1.5,10],[1.6,12],[1.72,55],[1.77,20],[1.87,30],[1.95,12],[2.1,12],[2.3,14],[2.5,12],[2.7,15],[2.85,10],[3.0,12],[3.2,14],[3.4,11],[3.6,10],[3.8,10],[4.0,11],[4.5,9],[5.0,8],[5.5,7],[6.0,6],[6.5,6],[7.0,5],[7.5,5],[8.0,5]];

// ---- series per pair, ordered by concentration ----
const columns = [
  { color: "#90ee90", width: 2.0, long: false, series: [eee2eee2_500, eee2eee2_350, eee2eee2_300, eee2eee2_245, eee2eee2_200, eee2eee2_160, eee2eee2_40] },
  { color: "#ff0000", width: 1.3, long: false, series: [
      [...e2e2_500_lead, ...onGrid(1.02, 0.025, e2e2_500_g)],
      [...e2e2_350_lead, ...onGrid(1.15, 0.025, e2e2_350_g)],
      e2e2_300, e2e2_245, e2e2_200, e2e2_160, e2e2_40] },
  { color: "#87ceeb", width: 1.3, long: false, series: [
      [...q2q2_500_lead, ...onGrid(1.02, 0.025, q2q2_500_g)],
      [...q2q2_350_lead, ...onGrid(1.02, 0.025, q2q2_350_g)],
      [...q2q2_300_lead, ...onGrid(1.02, 0.025, q2q2_300_g)],
      [...q2q2_245_lead, ...onGrid(1.07, 0.025, q2q2_245_g)],
      q2q2_200, q2q2_160, q2q2_40] },
  { color: "#ffa500", width: 1.3, long: true, series: [
      [...eee2e2_500_lead, ...onGrid(1.1, 0.06, eee2e2_500_g)],
      eee2e2_350, eee2e2_300, eee2e2_245, eee2e2_200, eee2e2_160, eee2e2_40] },
  { color: "#40e0d0", width: 1.3, long: true, series: [
      [...eee2q2_500_lead, ...onGrid(1.1, 0.06, eee2q2_500_g)],
      [...eee2q2_350_lead, ...onGrid(1.1, 0.06, eee2q2_350_g)],
      [...eee2q2_300_lead, ...onGrid(1.1, 0.06, eee2q2_300_g)],
      eee2q2_245, eee2q2_200, eee2q2_160, eee2q2_40] },
  { color: "#9400d3", width: 1.3, long: true, series: [
      [...e2q2_500_lead, ...onGrid(1.05, 0.06, e2q2_500_g)],
      [...e2q2_350_lead, ...onGrid(1.05, 0.06, e2q2_350_g)],
      [...e2q2_300_lead, ...onGrid(1.1, 0.06, e2q2_300_g)],
      e2q2_245, e2q2_200, e2q2_160, e2q2_40] }
];

// ---- layout (pixel positions of each plot frame) ----
const colLeft = [78, 308, 533, 760, 989, 1215];
const rowTop = [43, 242, 448, 648, 845, 1044, 1236];
const colHeadX = [158, 400, 622, 850, 1068, 1296];
const rowHeadY = [130, 318, 525, 722, 930, 1125, 1322];
const PW = 177, PH = 159;
const ML = 52, MR = 10, MT = 12, MB = 28;
const TICK = 4; // inward tick length, px

const fig = document.getElementById("fig");

function fmt(d) { return String(+d.toFixed(4)); }

function panel(data, color, width, long, top, step) {
  const n = Math.round(top / step);
  const yTicks = d3.range(0, n + 1).map(i => +(i * step).toFixed(4));
  const xTicks = long ? xTicksLong : xTicksShort;
  const xDomain = long ? [0.5, 8] : [0.5, 4];
  return Plot.plot({
    width: PW + ML + MR,
    height: PH + MT + MB,
    marginLeft: ML, marginRight: MR, marginTop: MT, marginBottom: MB,
    style: { fontFamily: "'DejaVu Sans', Verdana, sans-serif", fontSize: "10px", color: "#333", background: "none", overflow: "visible" },
    x: { domain: xDomain, ticks: xTicks, tickSize: 0, tickPadding: 5, tickFormat: fmt, label: null },
    y: { domain: [0, top], ticks: yTicks, tickSize: 0, tickPadding: 5, tickFormat: fmt, label: null },
    marks: [
      Plot.frame({ stroke: "#8c8c8c" }),
      // inward ticks on all four sides of the frame
      Plot.tickX(xTicks, { x: d => d, frameAnchor: "bottom", stroke: "#8c8c8c", insetTop: PH - TICK }),
      Plot.tickX(xTicks, { x: d => d, stroke: "#8c8c8c", insetBottom: PH - TICK }),
      Plot.tickY(yTicks, { y: d => d, stroke: "#8c8c8c", insetRight: PW - TICK }),
      Plot.tickY(yTicks, { y: d => d, stroke: "#8c8c8c", insetLeft: PW - TICK }),
      Plot.line(data, { x: d => d[0], y: d => d[1], stroke: color, strokeWidth: width, clip: true }),
      Plot.text(["r"], { text: d => d, frameAnchor: "bottom", dy: 20, fontSize: 9, fill: "#444" }),
      Plot.text(["g(r)"], { text: d => d, frameAnchor: "left", dx: -34, rotate: -90, fontSize: 9, fill: "#444" })
    ]
  });
}

// light borders framing each panel
rowTop.forEach(top => {
  colLeft.forEach(left => {
    const b = document.createElement("div");
    b.className = "box";
    b.style.left = (left - 48) + "px";
    b.style.top = (top - 13) + "px";
    b.style.width = (PW + 58) + "px";
    b.style.height = (PH + 38) + "px";
    fig.appendChild(b);
  });
});

columns.forEach((col, c) => {
  col.series.forEach((data, r) => {
    const svg = panel(data, col.color, col.width, col.long, yMax[r][c], yStep[r][c]);
    svg.classList.add("panel");
    svg.style.left = (colLeft[c] - ML) + "px";
    svg.style.top = (rowTop[r] - MT) + "px";
    svg.style.maxWidth = "none";
    fig.appendChild(svg);
  });
});

pairs.forEach((name, c) => {
  const h = document.createElement("div");
  h.className = "colhead";
  h.style.left = colHeadX[c] + "px";
  h.textContent = name;
  fig.appendChild(h);
});

concentrations.forEach((name, r) => {
  const h = document.createElement("div");
  h.className = "rowhead";
  h.style.left = "20px";
  h.style.top = rowHeadY[r] + "px";
  h.textContent = name;
  fig.appendChild(h);
});
</script>
</body>
</html>
